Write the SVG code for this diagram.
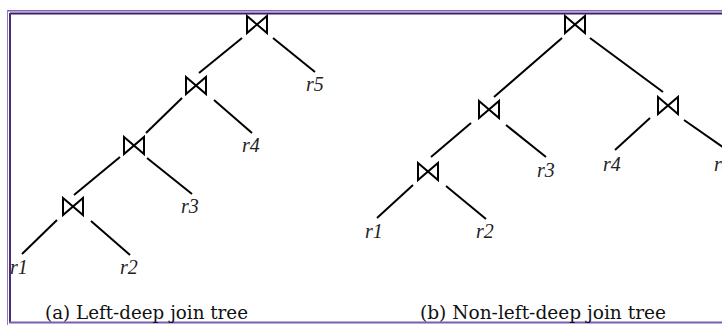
<svg xmlns="http://www.w3.org/2000/svg" width="722" height="325" viewBox="0 0 722 325">
<style>
.bt{fill:none;stroke:#000;stroke-width:2;stroke-linejoin:miter}
.e{stroke:#000;stroke-width:2;fill:none}
.lbl{font-family:"Liberation Serif","Times New Roman",serif;font-style:italic;font-size:20px;fill:#222}
.cap{font-family:"DejaVu Serif","Liberation Serif",serif;font-size:18px;fill:#111}
</style>
<rect width="722" height="325" fill="#fff"/>
<g id="frame" fill="none">
<line x1="7" y1="10.5" x2="722" y2="10.5" stroke="#7d62b3" stroke-width="1"/>
<line x1="8" y1="11.5" x2="722" y2="11.5" stroke="#b8a8d8" stroke-width="1"/>
<line x1="10" y1="13.5" x2="722" y2="13.5" stroke="#3d1d6b" stroke-width="2"/>
<line x1="7.5" y1="10" x2="7.5" y2="325" stroke="#8e7bb8" stroke-width="1"/>
<line x1="10" y1="13" x2="10" y2="323" stroke="#4a2a7e" stroke-width="2"/>
<line x1="9" y1="322.5" x2="722" y2="322.5" stroke="#7a5cb4" stroke-width="2"/>
</g>
<g id="connectors">
<line class="e" x1="242" y1="38" x2="199" y2="73"/>
<line class="e" x1="273" y1="38" x2="315" y2="72"/>
<line class="e" x1="182" y1="98" x2="146" y2="133"/>
<line class="e" x1="214" y1="100" x2="252" y2="133"/>
<line class="e" x1="120" y1="157" x2="74" y2="195"/>
<line class="e" x1="147" y1="158" x2="192" y2="194"/>
<line class="e" x1="57" y1="220" x2="22" y2="254"/>
<line class="e" x1="91" y1="221" x2="130" y2="255"/>
<line class="e" x1="562" y1="38" x2="494" y2="97"/>
<line class="e" x1="590" y1="38" x2="663" y2="92"/>
<line class="e" x1="471" y1="123" x2="431" y2="157"/>
<line class="e" x1="506" y1="125" x2="546" y2="157"/>
<line class="e" x1="650" y1="118" x2="615" y2="150"/>
<line class="e" x1="684" y1="120" x2="730" y2="152"/>
<line class="e" x1="413" y1="185" x2="377" y2="218"/>
<line class="e" x1="446" y1="186" x2="486" y2="219"/>
</g>
<g id="a-join1"><path class="bt" d="M247 16 L267 33 L267 16 L247 33 Z"/></g>
<g id="a-join2"><path class="bt" d="M186 77 L206 94 L206 77 L186 94 Z"/></g>
<g id="a-join3"><path class="bt" d="M124 137 L144 154 L144 137 L124 154 Z"/></g>
<g id="a-join4"><path class="bt" d="M63 198 L83 215 L83 198 L63 215 Z"/></g>
<g id="a-r5"><text class="lbl" x="306" y="91">r5</text></g>
<g id="a-r4"><text class="lbl" x="242" y="152">r4</text></g>
<g id="a-r3"><text class="lbl" x="181" y="213">r3</text></g>
<g id="a-r1"><text class="lbl" x="10" y="274">r1</text></g>
<g id="a-r2"><text class="lbl" x="120" y="274">r2</text></g>
<g id="b-join1"><path class="bt" d="M565 16 L585 33 L585 16 L565 33 Z"/></g>
<g id="b-join2"><path class="bt" d="M479 101 L499 118 L499 101 L479 118 Z"/></g>
<g id="b-join3"><path class="bt" d="M658 97 L678 114 L678 97 L658 114 Z"/></g>
<g id="b-join4"><path class="bt" d="M418 163 L438 180 L438 163 L418 180 Z"/></g>
<g id="b-r3"><text class="lbl" x="537" y="177">r3</text></g>
<g id="b-r4"><text class="lbl" x="603" y="171">r4</text></g>
<g id="b-r5"><text class="lbl" x="714" y="171">r5</text></g>
<g id="b-r1"><text class="lbl" x="365" y="238">r1</text></g>
<g id="b-r2"><text class="lbl" x="476" y="238">r2</text></g>
<g id="captions">
<text class="cap" x="45" y="319" textLength="203" lengthAdjust="spacingAndGlyphs">(a) Left-deep join tree</text>
<text class="cap" x="420" y="319" textLength="246" lengthAdjust="spacingAndGlyphs">(b) Non-left-deep join tree</text>
</g>
</svg>
